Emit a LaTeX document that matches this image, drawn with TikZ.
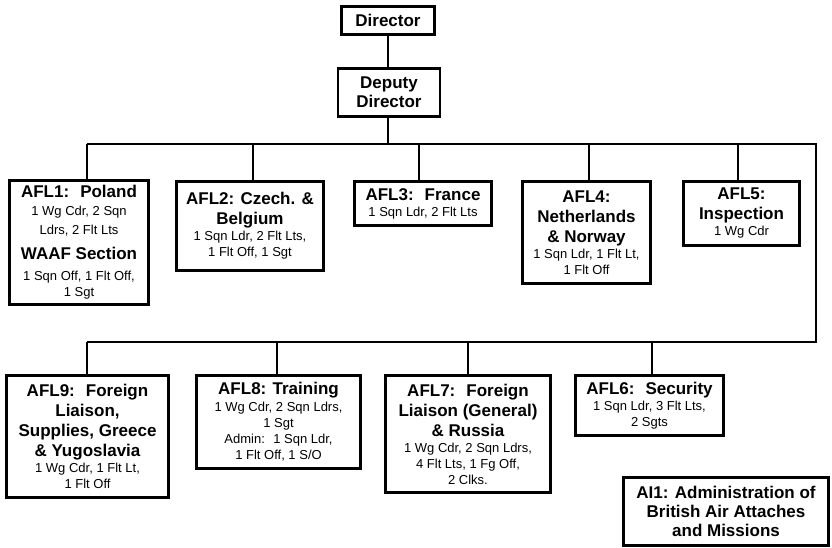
\documentclass[tikz,border=0pt]{standalone}
\usepackage{fontspec}
\setmainfont{Liberation Sans}
\usepackage{tikz}
\tikzset{>=latex}
\newcommand{\hd}[1]{{\fontsize{17}{20}\selectfont\bfseries #1}}
\tikzset{
    unit/.style={draw, line width=2.8pt, align=center, inner sep=1pt,
        font=\fontsize{13}{16}\selectfont},
    link/.style={line width=2.8pt}
}

\begin{document}
\begin{tikzpicture}[x=1pt, y=-1pt]
    \useasboundingbox (0,0) rectangle (832,548);
    % top of the chart
    \node[unit, minimum width=93, minimum height=28] (director) at (388,20.5) {\hd{Director}};
    \node[unit, minimum width=102, minimum height=48] (deputy) at (389,92.5) {\hd{Deputy}\\[3pt]\hd{Director}};
    % first row of sections
    \node[unit, minimum width=139, minimum height=124] (afl1) at (79,242.5)
        {\hd{AFL1:~ Poland}\\[2pt]1 Wg Cdr, 2 Sqn\\[3pt]Ldrs, 2 Flt Lts\\[9pt]\hd{WAAF Section}\\[5pt]1 Sqn Off, 1 Flt Off,\\1 Sgt};
    \node[unit, minimum width=147, minimum height=89] (afl2) at (250,226)
        {\hd{AFL2: Czech. \&}\\[4pt]\hd{Belgium}\\1 Sqn Ldr, 2 Flt Lts,\\1 Flt Off, 1 Sgt};
    \node[unit, minimum width=137, minimum height=44] (afl3) at (423,203.5)
        {\hd{AFL3:~ France}\\1 Sqn Ldr, 2 Flt Lts};
    \node[unit, minimum width=128, minimum height=102] (afl4) at (586.5,232.5)
        {\hd{AFL4:}\\[4pt]\hd{Netherlands}\\[4pt]\hd{\& Norway}\\1 Sqn Ldr, 1 Flt Lt,\\1 Flt Off};
    \node[unit, minimum width=116, minimum height=64] (afl5) at (741.5,213.5)
        {\hd{AFL5:}\\[4pt]\hd{Inspection}\\1 Wg Cdr};
    % second row of sections
    \node[unit, minimum width=162, minimum height=122] (afl9) at (87.5,436.5)
        {\hd{AFL9:~ Foreign}\\[4pt]\hd{Liaison,}\\[4pt]\hd{Supplies, Greece}\\[4pt]\hd{\& Yugoslavia}\\1 Wg Cdr, 1 Flt Lt,\\1 Flt Off};
    \node[unit, minimum width=164, minimum height=93] (afl8) at (278.5,422)
        {\hd{AFL8: Training}\\[1pt]1 Wg Cdr, 2 Sqn Ldrs,\\1 Sgt\\Admin:~ 1 Sqn Ldr,\\1 Flt Off, 1 S/O};
    \node[unit, minimum width=165, minimum height=117] (afl7) at (468,434)
        {\hd{AFL7:~ Foreign}\\[4pt]\hd{Liaison (General)}\\[4pt]\hd{\& Russia}\\1 Wg Cdr, 2 Sqn Ldrs,\\4 Flt Lts, 1 Fg Off,\\2 Clks.};
    \node[unit, minimum width=148, minimum height=60] (afl6) at (649.5,405.5)
        {\hd{AFL6:~ Security}\\1 Sqn Ldr, 3 Flt Lts,\\2 Sgts};
    \node[unit, minimum width=205, minimum height=68] (ai1) at (726,511.5)
        {\hd{AI1: Administration of}\\[3pt]\hd{British Air Attaches}\\[3pt]\hd{and Missions}};
    % connectors
    \coordinate (topl) at (87,144);
    \coordinate (topr) at (816,144);
    \coordinate (lowl) at (87,342);
    \coordinate (lowr) at (816,342);
    \draw[link] (director.south) -- (director.south |- deputy.north);
    \draw[link] (director.south |- deputy.south) -- (director.south |- topl);
    \draw[link] (topl) -- (topr) -- (lowr) -- (lowl);
    \foreach \n/\x in {afl1/87, afl2/253, afl3/419, afl4/589, afl5/738}{
        \coordinate (\n top) at (\x,144);
        \draw[link] (\n top) -- (\n top |- \n.north);
    }
    \foreach \n/\x in {afl9/87, afl8/277, afl7/468, afl6/652}{
        \coordinate (\n top) at (\x,342);
        \draw[link] (\n top) -- (\n top |- \n.north);
    }
\end{tikzpicture}
\end{document}
